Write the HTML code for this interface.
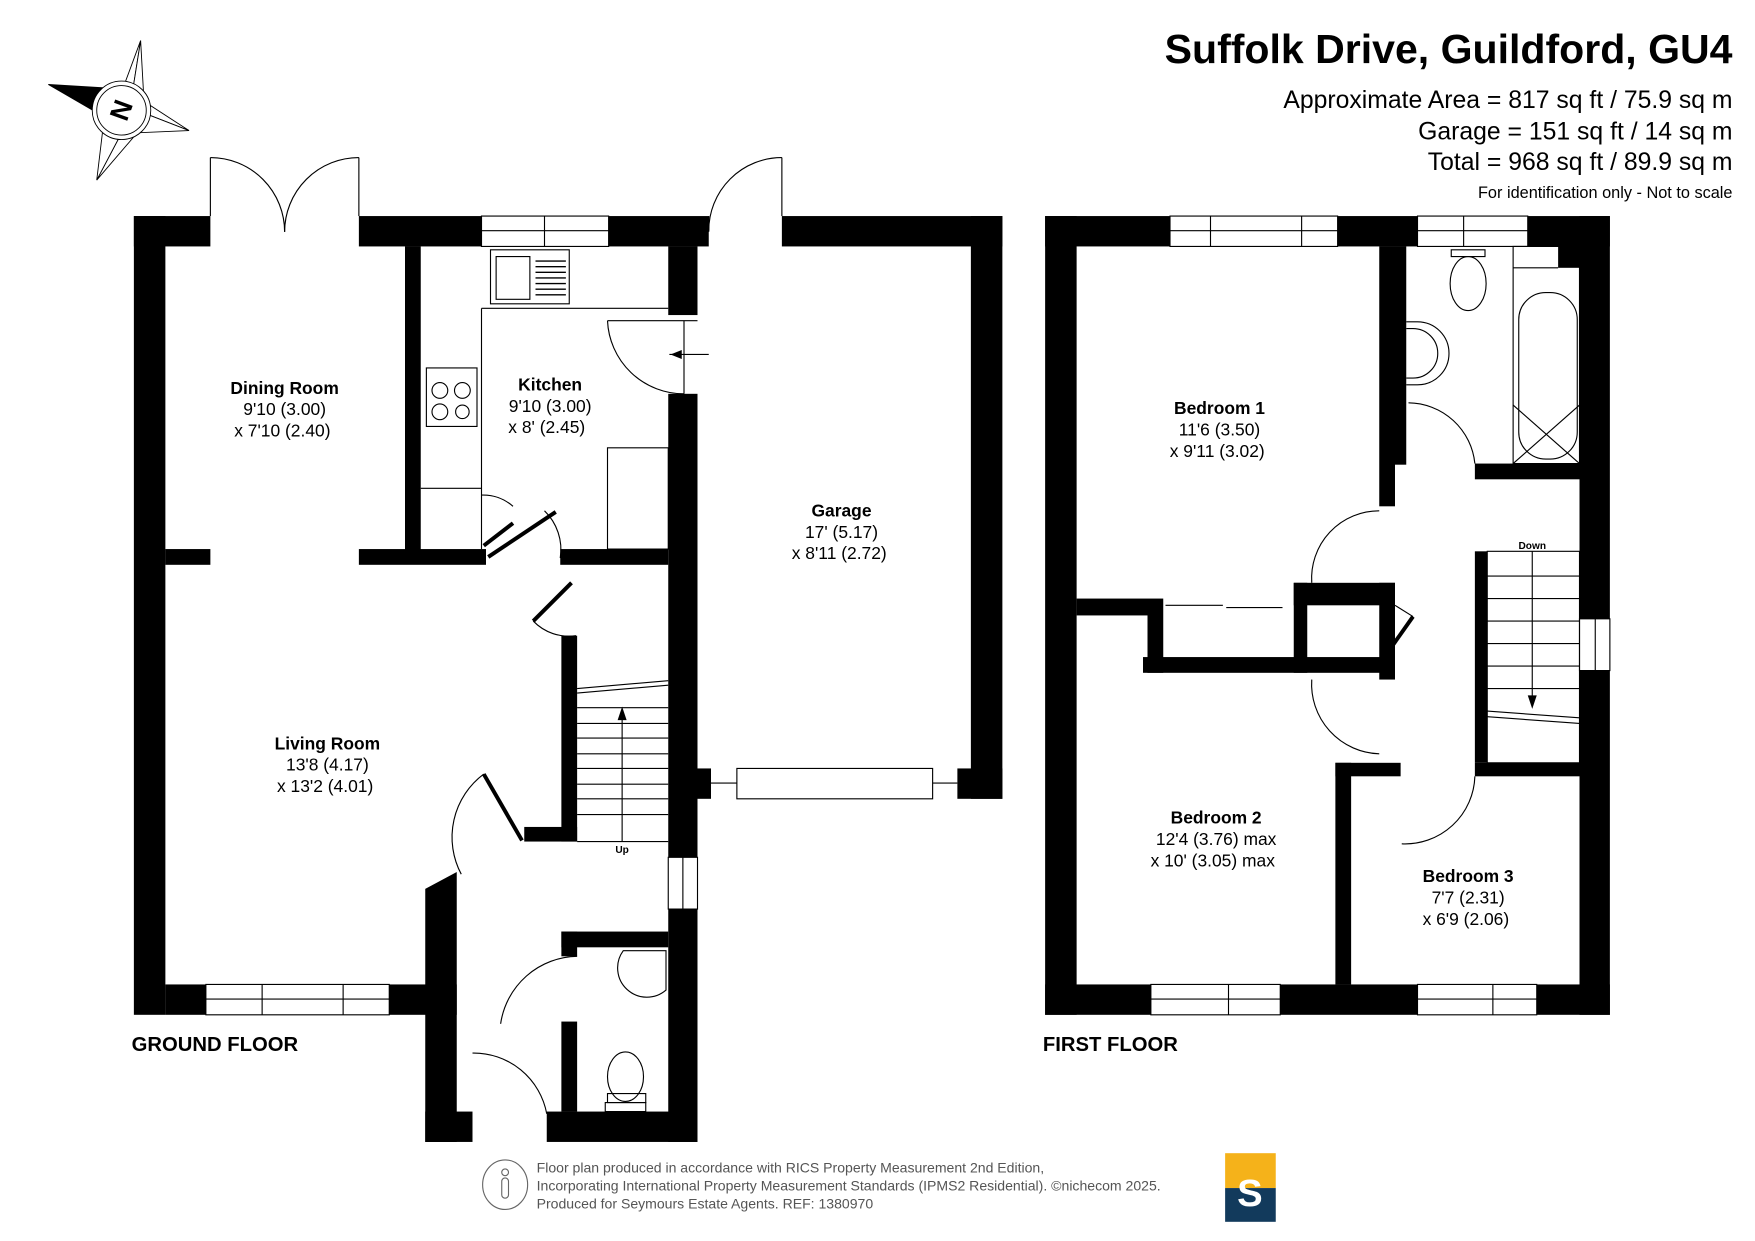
<!DOCTYPE html>
<html><head><meta charset="utf-8"><style>
html,body{margin:0;padding:0;background:#fff}
svg{display:block}
text{font-family:"Liberation Sans",Arial,sans-serif;fill:#000}
</style></head><body>
<svg width="1755" height="1241" viewBox="0 0 1560 1103" xmlns="http://www.w3.org/2000/svg">
<!-- Title -->
<text x="1540" y="56" font-size="36.5" font-weight="bold" text-anchor="end">Suffolk Drive, Guildford, GU4</text>
<text x="1540" y="96" font-size="22" text-anchor="end">Approximate Area = 817 sq ft / 75.9 sq m</text>
<text x="1540" y="124" font-size="22" text-anchor="end">Garage = 151 sq ft / 14 sq m</text>
<text x="1540" y="151" font-size="22" text-anchor="end">Total = 968 sq ft / 89.9 sq m</text>
<text x="1540" y="176" font-size="14.5" text-anchor="end">For identification only - Not to scale</text>

<!-- compass -->
<g stroke="#000" stroke-width="0.8" fill="#fff">
<polygon points="125,36 118,80 108,82"/>
<polygon points="125,36 118,80 128,90"/>
<polygon points="168,116 128,90 132,102"/>
<polygon points="168,116 132,102 122,118"/>
<polygon points="86,160 122,118 106,122"/>
<polygon points="86,160 106,122 92,110"/>
<polygon points="43,75 92,78 86,100" fill="#000"/>
<circle cx="108" cy="98" r="26"/>
<circle cx="108" cy="98" r="22"/>
</g>
<text x="108" y="106" font-size="24" font-weight="bold" text-anchor="middle" transform="rotate(-70 108 98)">N</text>

<g fill="#000">
<!-- GROUND FLOOR walls -->
<rect x="119" y="192" width="28" height="710"/>
<rect x="119" y="192" width="68" height="27"/>
<rect x="319" y="192" width="109" height="27"/>
<rect x="541" y="192" width="89" height="27"/>
<rect x="695" y="192" width="196" height="27"/>
<rect x="863" y="192" width="28" height="518"/>
<rect x="851" y="683" width="40" height="27"/>
<rect x="620" y="683" width="12" height="27"/>
<rect x="594" y="219" width="26" height="61"/>
<rect x="594" y="350" width="26" height="412"/>
<rect x="594" y="808" width="26" height="207"/>
<rect x="360" y="219" width="14" height="281"/>
<rect x="147" y="488" width="40" height="14"/>
<rect x="319" y="488" width="113" height="14"/>
<rect x="498" y="488" width="96" height="14"/>
<rect x="499" y="565" width="14" height="183"/>
<rect x="466" y="735" width="47" height="13"/>
<rect x="147" y="875" width="36" height="27"/>
<rect x="346" y="875" width="60" height="27"/>
<polygon points="378,790 406,775 406,1015 378,1015"/>
<rect x="378" y="988" width="42" height="27"/>
<rect x="486" y="988" width="134" height="27"/>
<rect x="499" y="828" width="95" height="14"/>
<rect x="499" y="828" width="14" height="22"/>
<rect x="499" y="908" width="14" height="80"/>

<!-- FIRST FLOOR walls -->
<rect x="929" y="192" width="28" height="710"/>
<rect x="929" y="192" width="111" height="27"/>
<rect x="1189" y="192" width="71" height="27"/>
<rect x="1358" y="192" width="73" height="27"/>
<rect x="1385" y="219" width="19" height="19"/>
<rect x="1404" y="192" width="27" height="358"/>
<rect x="1404" y="596" width="27" height="306"/>
<rect x="929" y="875" width="94" height="27"/>
<rect x="1138" y="875" width="122" height="27"/>
<rect x="1366" y="875" width="65" height="27"/>
<rect x="1226" y="219" width="14" height="231"/>
<rect x="1240" y="219" width="10" height="194"/>
<rect x="1311" y="412" width="93" height="14"/>
<rect x="957" y="532" width="63" height="15"/>
<rect x="1020" y="532" width="14" height="66"/>
<rect x="1016" y="584" width="224" height="14"/>
<rect x="1150" y="518" width="12" height="80"/>
<rect x="1150" y="518" width="90" height="20"/>
<rect x="1226" y="518" width="14" height="86"/>
<rect x="1187" y="678" width="14" height="197"/>
<rect x="1187" y="678" width="58" height="12"/>
<rect x="1311" y="678" width="93" height="12"/>
<rect x="1311" y="490" width="11" height="188"/>
</g>

<g fill="none" stroke="#000" stroke-width="1">
<!-- GF windows -->
<rect x="428" y="192" width="113" height="27"/><line x1="428" y1="205" x2="541" y2="205"/><line x1="484" y1="192" x2="484" y2="219"/>
<rect x="183" y="875" width="163" height="27"/><line x1="183" y1="888" x2="346" y2="888"/><line x1="233" y1="875" x2="233" y2="902"/><line x1="305" y1="875" x2="305" y2="902"/>
<rect x="655" y="683" width="174" height="27"/><line x1="632" y1="696" x2="655" y2="696"/><line x1="829" y1="696" x2="851" y2="696"/>
<rect x="594" y="762" width="26" height="46"/><line x1="607" y1="762" x2="607" y2="808"/>
<!-- french doors -->
<line x1="187" y1="140" x2="187" y2="192"/><line x1="319" y1="140" x2="319" y2="192"/>
<path d="M187,140 A66,66 0 0 1 253,206"/><path d="M319,140 A66,66 0 0 0 253,206"/>
<line x1="630" y1="192" x2="630" y2="206"/><line x1="695" y1="140" x2="695" y2="192"/>
<path d="M695,140 A65,65 0 0 0 630,205"/>
<!-- kitchen -->
<rect x="436" y="222" width="70" height="48"/><rect x="441" y="228" width="30" height="38"/>
<g stroke-width="1.2"><line x1="476" y1="232" x2="503" y2="232"/><line x1="476" y1="237" x2="503" y2="237"/><line x1="476" y1="242" x2="503" y2="242"/><line x1="476" y1="247" x2="503" y2="247"/><line x1="476" y1="252" x2="503" y2="252"/><line x1="476" y1="257" x2="503" y2="257"/><line x1="476" y1="262" x2="503" y2="262"/></g>
<line x1="428" y1="274" x2="594" y2="274"/><line x1="428" y1="274" x2="428" y2="488"/>
<line x1="374" y1="434" x2="428" y2="434"/>
<rect x="379" y="327" width="45" height="52"/>
<circle cx="391" cy="347" r="7"/><circle cx="411" cy="347" r="7"/><circle cx="391" cy="366" r="7"/><circle cx="411" cy="366" r="6"/>
<rect x="540" y="398" width="54" height="90"/>
<path d="M540,285 A68,68 0 0 0 608,350"/><line x1="540" y1="285" x2="620" y2="285"/><line x1="608" y1="285" x2="608" y2="350"/>
<line x1="595" y1="315" x2="630" y2="315"/>
<path d="M428,440 A40,40 0 0 1 456,450"/>
<path d="M484,454 A48,48 0 0 1 498,496"/>
<path d="M474,552 A44,44 0 0 0 512,565"/>
<path d="M430,688 A70,70 0 0 0 410,777"/>
<path d="M445,910 A70,70 0 0 1 513,850"/>
<path d="M420,936 A66,66 0 0 1 486,990"/>
<!-- stairs GF -->
<line x1="513" y1="612" x2="594" y2="605"/><line x1="513" y1="616" x2="594" y2="609"/>
<line x1="513" y1="629" x2="594" y2="629"/><line x1="513" y1="643" x2="594" y2="643"/><line x1="513" y1="656" x2="594" y2="656"/><line x1="513" y1="670" x2="594" y2="670"/><line x1="513" y1="683" x2="594" y2="683"/><line x1="513" y1="697" x2="594" y2="697"/><line x1="513" y1="710" x2="594" y2="710"/><line x1="513" y1="724" x2="594" y2="724"/><line x1="513" y1="748" x2="594" y2="748"/>
<line x1="553" y1="635" x2="553" y2="748"/>
<!-- WC -->
<path d="M554,845 A26,26 0 0 0 592,880 L592,845 Z"/>
<ellipse cx="556" cy="957" rx="16" ry="22"/><rect x="540" y="972" width="34" height="8"/><rect x="538" y="980" width="36" height="8"/>
<line x1="538" y1="996" x2="574" y2="996"/><line x1="538" y1="1004" x2="574" y2="1004"/>

<!-- FF windows -->
<rect x="1040" y="192" width="149" height="27"/><line x1="1040" y1="205" x2="1189" y2="205"/><line x1="1076" y1="192" x2="1076" y2="219"/><line x1="1157" y1="192" x2="1157" y2="219"/>
<rect x="1260" y="192" width="98" height="27"/><line x1="1260" y1="205" x2="1358" y2="205"/><line x1="1301" y1="192" x2="1301" y2="219"/>
<rect x="1023" y="875" width="115" height="27"/><line x1="1023" y1="888" x2="1138" y2="888"/><line x1="1092" y1="875" x2="1092" y2="902"/>
<rect x="1260" y="875" width="106" height="27"/><line x1="1260" y1="888" x2="1366" y2="888"/><line x1="1327" y1="875" x2="1327" y2="902"/>
<rect x="1404" y="550" width="27" height="46"/><line x1="1418" y1="550" x2="1418" y2="596"/>
<!-- bathroom -->
<ellipse cx="1305" cy="252" rx="16" ry="24"/><path d="M1290,228 L1320,228 L1320,222 L1290,222 Z"/>
<path d="M1250,286 L1260,286 A28,28 0 0 1 1260,342 L1250,342"/><path d="M1250,292 L1256,292 A22,22 0 0 1 1256,336 L1250,336"/>
<rect x="1345" y="219" width="59" height="193"/><line x1="1345" y1="238" x2="1385" y2="238"/>
<rect x="1350" y="260" width="52" height="148" rx="24"/>
<line x1="1345" y1="360" x2="1404" y2="412"/><line x1="1404" y1="360" x2="1345" y2="412"/>
<path d="M1252,358 A60,60 0 0 1 1311,412"/>
<!-- landing doors -->
<path d="M1226,454 A60,60 0 0 0 1166,518"/>
<path d="M1166,604 A62,62 0 0 0 1226,670"/>
<path d="M1311,690 A62,62 0 0 1 1246,750"/>
<path d="M1240,538 L1256,548"/>
<line x1="1036" y1="538" x2="1087" y2="538"/><line x1="1090" y1="540" x2="1140" y2="540"/>
<!-- stairs FF -->
<rect x="1322" y="490" width="82" height="188"/>
<line x1="1322" y1="512" x2="1404" y2="512"/><line x1="1322" y1="532" x2="1404" y2="532"/><line x1="1322" y1="552" x2="1404" y2="552"/><line x1="1322" y1="572" x2="1404" y2="572"/><line x1="1322" y1="592" x2="1404" y2="592"/><line x1="1322" y1="612" x2="1404" y2="612"/>
<line x1="1322" y1="632" x2="1404" y2="638"/><line x1="1322" y1="637" x2="1404" y2="643"/>
<line x1="1362" y1="490" x2="1362" y2="625"/>
<!-- footer icon -->
<ellipse cx="449" cy="1053" rx="20" ry="22" stroke="#666"/>
<circle cx="449" cy="1042" r="3" stroke="#666"/><rect x="446" y="1047" width="6" height="18" rx="3" stroke="#666"/>
</g>
<g stroke="#000" stroke-width="3.5">
<line x1="430" y1="485" x2="456" y2="465"/><line x1="434" y1="495" x2="494" y2="455"/>
<line x1="474" y1="552" x2="508" y2="518"/>
<line x1="430" y1="688" x2="464" y2="747"/>
<line x1="1256" y1="548" x2="1232" y2="582"/>
</g>
<polygon points="549,640 553,628 557,640" fill="#000"/>
<polygon points="1358,618 1362,630 1366,618" fill="#000"/>
<polygon points="596,315 606,311 606,319" fill="#000"/>

<!-- labels -->
<g text-anchor="middle" font-size="15.5">
<text x="253" y="350" font-weight="bold">Dining Room</text><text x="253" y="369">9'10 (3.00)</text><text x="251" y="388">x 7'10 (2.40)</text>
<text x="489" y="347" font-weight="bold">Kitchen</text><text x="489" y="366">9'10 (3.00)</text><text x="486" y="385">x 8' (2.45)</text>
<text x="748" y="459" font-weight="bold">Garage</text><text x="748" y="478">17' (5.17)</text><text x="746" y="497">x 8'11 (2.72)</text>
<text x="291" y="666" font-weight="bold">Living Room</text><text x="291" y="685">13'8 (4.17)</text><text x="289" y="704">x 13'2 (4.01)</text>
<text x="1084" y="368" font-weight="bold">Bedroom 1</text><text x="1084" y="387">11'6 (3.50)</text><text x="1082" y="406">x 9'11 (3.02)</text>
<text x="1081" y="732" font-weight="bold">Bedroom 2</text><text x="1081" y="751">12'4 (3.76) max</text><text x="1078" y="770">x 10' (3.05) max</text>
<text x="1305" y="784" font-weight="bold">Bedroom 3</text><text x="1305" y="803">7'7 (2.31)</text><text x="1303" y="822">x 6'9 (2.06)</text>
</g>
<text x="553" y="758" font-size="9" font-weight="bold" text-anchor="middle">Up</text>
<text x="1362" y="488" font-size="9" font-weight="bold" text-anchor="middle">Down</text>
<text x="117" y="934" font-size="18" font-weight="bold">GROUND FLOOR</text>
<text x="927" y="934" font-size="18" font-weight="bold">FIRST FLOOR</text>

<g font-size="12.5">
<text x="477" y="1042" style="fill:#555">Floor plan produced in accordance with RICS Property Measurement 2nd Edition,</text>
<text x="477" y="1058" style="fill:#555">Incorporating International Property Measurement Standards (IPMS2 Residential).  ©nichecom 2025.</text>
<text x="477" y="1074" style="fill:#555">Produced for Seymours Estate Agents.   REF: 1380970</text>
</g>
<rect x="1089" y="1025" width="45" height="31" fill="#f5b21a"/>
<rect x="1089" y="1056" width="45" height="30" fill="#123a5c"/>
<text x="1111" y="1072" font-size="34" font-weight="bold" text-anchor="middle" style="fill:#fff">S</text>
</svg>
</body></html>
